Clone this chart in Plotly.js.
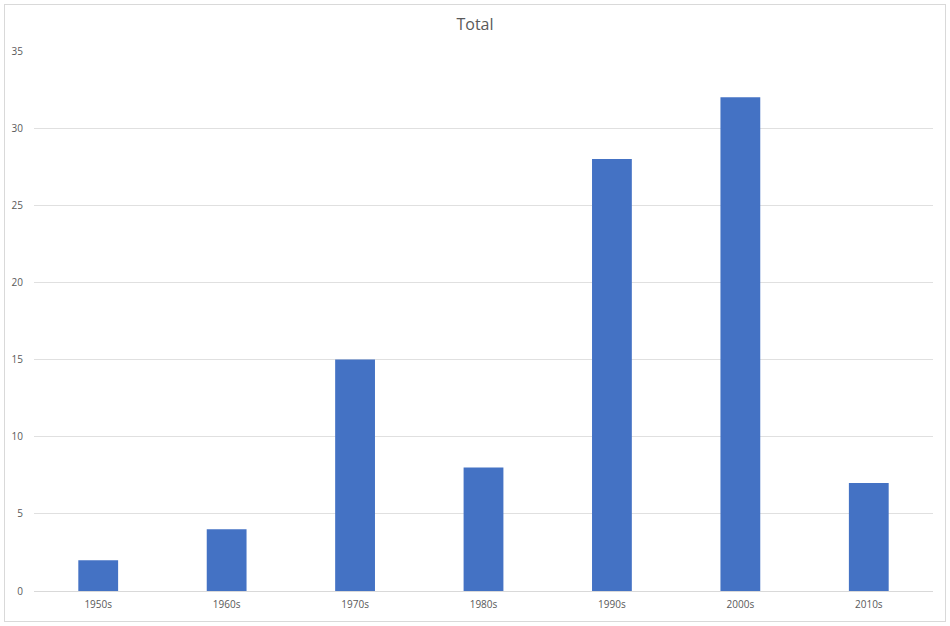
<!DOCTYPE html>
<html>
<head>
<meta charset="utf-8">
<script src="https://cdn.plot.ly/plotly-3.0.1.min.js"></script>
<style>
  html, body { margin: 0; padding: 0; background: #fff; }
  #chart { position: absolute; left: 4px; top: 4px; width: 940px; height: 616px; border: 1px solid #d9d9d9; }
</style>
</head>
<body>
<div id="chart"></div>
<script>
const decades = ["1950s", "1960s", "1970s", "1980s", "1990s", "2000s", "2010s"];
const totals = [2, 4, 15, 8, 28, 32, 7];
const y_ticks = [0, 5, 10, 15, 20, 25, 30, 35];

const traces = [{
    x: decades,
    y: totals,
    type: "bar",
    marker: { color: "#4472c4" },
    hoverinfo: "x+y"
}];

const layout = {
    width: 940, height: 616,
    margin: { l: 29, r: 12, t: 46, b: 30, pad: 0 },
    paper_bgcolor: "#ffffff",
    plot_bgcolor: "#ffffff",
    font: { family: "Open Sans, Liberation Sans, sans-serif", size: 10, color: "#595959" },
    title: {
        text: "Total",
        font: { size: 16, color: "#595959" },
        x: 0.5, xanchor: "center", y: 0.968, yanchor: "middle"
    },
    bargap: 0.69,
    showlegend: false,
    xaxis: {
        showgrid: false,
        showline: true,
        linecolor: "#d9d9d9",
        ticks: "",
        ticklabelstandoff: 4,
        tickfont: { size: 10, color: "#595959" }
    },
    yaxis: {
        range: [0, 35],
        tickvals: y_ticks,
        gridcolor: "#e0e0e0",
        zeroline: false,
        showline: false,
        ticks: "",
        ticklabelstandoff: 10,
        tickfont: { size: 10, color: "#595959" }
    }
};

Plotly.newPlot("chart", traces, layout, { displayModeBar: false, staticPlot: true });
</script>
</body>
</html>
